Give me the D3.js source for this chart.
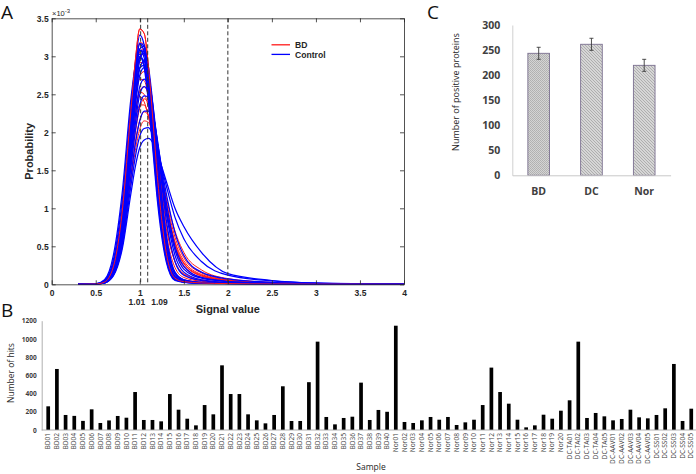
<!DOCTYPE html>
<html>
<head>
<meta charset="utf-8">
<script src="https://cdn.jsdelivr.net/npm/d3@7"></script>
<style>
  html, body { margin: 0; padding: 0; background: #ffffff; }
  svg { display: block; }
</style>
</head>
<body>
<svg id="chart" width="696" height="474"></svg>
<script>
// ---------------- Panel A data (probability ×10^-3 on a shared signal grid) ----------------
const signalGrid = [0.3, 0.5, 0.6, 0.7, 0.8, 0.9, 0.95, 1.0, 1.05, 1.1, 1.15, 1.2, 1.3, 1.4, 1.5, 1.7, 2.0, 2.5, 3.0, 4.0];

const bdCurves = [
  [0, 0.003, 0.03, 0.23, 0.95, 2.3, 2.95, 3.36, 3.3, 2.85, 2.15, 1.42, 0.42, 0.08, 0.035, 0.018, 0.009, 0.004, 0.002, 0],
  [0, 0.003, 0.03, 0.24, 0.93, 2.22, 2.82, 3.18, 3.16, 2.78, 2.15, 1.45, 0.46, 0.09, 0.04, 0.02, 0.01, 0.005, 0.002, 0],
  [0, 0.002, 0.025, 0.2, 0.84, 2.1, 2.7, 3.06, 3.1, 2.8, 2.22, 1.55, 0.55, 0.13, 0.05, 0.025, 0.012, 0.005, 0.002, 0],
  [0, 0.003, 0.03, 0.22, 0.88, 2.05, 2.6, 2.92, 2.9, 2.6, 2.1, 1.55, 0.66, 0.22, 0.09, 0.04, 0.018, 0.007, 0.003, 0],
  [0, 0.002, 0.025, 0.18, 0.75, 1.85, 2.4, 2.74, 2.8, 2.62, 2.22, 1.72, 0.8, 0.3, 0.13, 0.05, 0.022, 0.008, 0.003, 0],
  [0, 0.002, 0.025, 0.17, 0.7, 1.72, 2.22, 2.55, 2.6, 2.48, 2.18, 1.8, 0.98, 0.47, 0.23, 0.09, 0.04, 0.015, 0.005, 0],
  [0, 0.003, 0.03, 0.2, 0.78, 1.8, 2.28, 2.53, 2.5, 2.32, 2.02, 1.65, 0.95, 0.5, 0.27, 0.11, 0.045, 0.015, 0.005, 0],
  [0, 0.002, 0.02, 0.15, 0.62, 1.55, 2.0, 2.32, 2.44, 2.38, 2.15, 1.82, 1.08, 0.55, 0.28, 0.11, 0.05, 0.018, 0.006, 0],
  [0, 0.003, 0.03, 0.18, 0.72, 1.68, 2.12, 2.36, 2.36, 2.2, 1.95, 1.65, 1.0, 0.56, 0.31, 0.13, 0.055, 0.02, 0.006, 0],
  [0, 0.002, 0.02, 0.14, 0.58, 1.45, 1.88, 2.16, 2.27, 2.22, 2.02, 1.74, 1.1, 0.62, 0.35, 0.15, 0.06, 0.02, 0.007, 0],
  [0, 0.002, 0.02, 0.13, 0.54, 1.36, 1.76, 2.04, 2.15, 2.13, 1.96, 1.72, 1.15, 0.7, 0.42, 0.19, 0.075, 0.025, 0.008, 0],
  [0, 0.003, 0.03, 0.22, 0.86, 1.98, 2.48, 2.7, 2.68, 2.45, 2.05, 1.58, 0.74, 0.3, 0.14, 0.06, 0.025, 0.01, 0.003, 0],
  [0, 0.002, 0.025, 0.2, 0.82, 2.05, 2.63, 2.98, 3.03, 2.74, 2.18, 1.53, 0.56, 0.14, 0.06, 0.025, 0.012, 0.005, 0.002, 0],
  [0, 0.004, 0.04, 0.24, 0.88, 1.9, 2.32, 2.47, 2.4, 2.2, 1.9, 1.55, 0.92, 0.5, 0.28, 0.12, 0.05, 0.018, 0.006, 0]
];

const controlCurves = [
  [0, 0.003, 0.03, 0.22, 0.92, 2.25, 2.9, 3.28, 3.15, 2.65, 1.95, 1.25, 0.33, 0.06, 0.03, 0.015, 0.008, 0.004, 0.002, 0],
  [0, 0.003, 0.03, 0.24, 0.95, 2.22, 2.82, 3.16, 3.06, 2.62, 1.98, 1.3, 0.38, 0.07, 0.03, 0.015, 0.008, 0.004, 0.002, 0],
  [0, 0.003, 0.03, 0.23, 0.9, 2.15, 2.73, 3.08, 3.05, 2.65, 2.03, 1.36, 0.42, 0.08, 0.04, 0.02, 0.01, 0.005, 0.002, 0],
  [0, 0.002, 0.02, 0.15, 0.7, 1.9, 2.5, 2.95, 3.07, 2.85, 2.35, 1.7, 0.6, 0.13, 0.05, 0.02, 0.01, 0.005, 0.002, 0],
  [0, 0.002, 0.025, 0.2, 0.82, 2.05, 2.65, 3.0, 3.04, 2.72, 2.15, 1.48, 0.5, 0.1, 0.04, 0.02, 0.01, 0.005, 0.002, 0],
  [0, 0.004, 0.04, 0.27, 0.95, 2.12, 2.66, 2.98, 2.94, 2.58, 2.0, 1.38, 0.46, 0.1, 0.04, 0.02, 0.01, 0.005, 0.002, 0],
  [0, 0.005, 0.05, 0.32, 1.1, 2.35, 2.85, 3.08, 2.98, 2.55, 1.92, 1.26, 0.38, 0.08, 0.03, 0.015, 0.008, 0.004, 0.002, 0],
  [0, 0.002, 0.02, 0.16, 0.72, 1.85, 2.42, 2.84, 2.94, 2.78, 2.32, 1.72, 0.66, 0.16, 0.06, 0.025, 0.012, 0.006, 0.002, 0],
  [0, 0.002, 0.025, 0.19, 0.82, 2.1, 2.72, 3.1, 3.13, 2.8, 2.2, 1.5, 0.48, 0.09, 0.04, 0.02, 0.01, 0.005, 0.002, 0],
  [0, 0.002, 0.02, 0.16, 0.7, 1.8, 2.35, 2.75, 2.85, 2.72, 2.35, 1.85, 0.85, 0.3, 0.12, 0.05, 0.02, 0.01, 0.004, 0],
  [0, 0.002, 0.02, 0.15, 0.66, 1.7, 2.22, 2.6, 2.7, 2.6, 2.28, 1.85, 0.95, 0.38, 0.16, 0.06, 0.025, 0.01, 0.004, 0],
  [0, 0.002, 0.02, 0.14, 0.6, 1.55, 2.02, 2.36, 2.48, 2.46, 2.25, 1.9, 1.08, 0.5, 0.24, 0.09, 0.04, 0.015, 0.005, 0],
  [0, 0.002, 0.02, 0.13, 0.55, 1.42, 1.85, 2.15, 2.28, 2.28, 2.12, 1.85, 1.2, 0.68, 0.38, 0.16, 0.07, 0.025, 0.008, 0],
  [0, 0.002, 0.02, 0.12, 0.5, 1.3, 1.68, 1.95, 2.05, 2.06, 1.95, 1.76, 1.3, 0.88, 0.6, 0.3, 0.12, 0.045, 0.015, 0],
  [0, 0.002, 0.018, 0.11, 0.46, 1.2, 1.55, 1.8, 1.9, 1.92, 1.86, 1.72, 1.36, 1.0, 0.76, 0.42, 0.14, 0.05, 0.018, 0],
  [0, 0.004, 0.04, 0.28, 0.98, 2.18, 2.7, 2.99, 2.88, 2.45, 1.82, 1.17, 0.34, 0.06, 0.03, 0.015, 0.008, 0.004, 0.002, 0],
  [0, 0.003, 0.03, 0.2, 0.8, 1.95, 2.5, 2.85, 2.88, 2.62, 2.1, 1.5, 0.58, 0.15, 0.06, 0.025, 0.012, 0.006, 0.002, 0],
  [0, 0.003, 0.03, 0.22, 0.9, 2.2, 2.8, 3.17, 3.13, 2.72, 2.08, 1.4, 0.43, 0.08, 0.04, 0.02, 0.01, 0.005, 0.002, 0],
  [0, 0.002, 0.02, 0.15, 0.63, 1.62, 2.12, 2.5, 2.6, 2.52, 2.25, 1.88, 1.0, 0.45, 0.2, 0.08, 0.035, 0.012, 0.004, 0],
  [0, 0.006, 0.06, 0.38, 1.2, 2.45, 2.88, 3.03, 2.85, 2.38, 1.75, 1.1, 0.3, 0.05, 0.025, 0.012, 0.006, 0.003, 0.001, 0]
];

const thresholdLines = [1.01, 1.09, 2];
const thresholdLabels = ["1.01", "1.09"];
const signalTicks = [0, 0.5, 1, 1.5, 2, 2.5, 3, 3.5, 4];
const probTicks = [0, 0.5, 1, 1.5, 2, 2.5, 3, 3.5];
const legendLabels = ["BD", "Control"];

// ---------------- Panel B data ----------------
const sampleNames = [
  "BD01","BD02","BD03","BD04","BD05","BD06","BD07","BD08","BD09","BD10",
  "BD11","BD12","BD13","BD14","BD15","BD16","BD17","BD18","BD19","BD20",
  "BD21","BD22","BD23","BD24","BD25","BD26","BD27","BD28","BD29","BD30",
  "BD31","BD32","BD33","BD34","BD35","BD36","BD37","BD38","BD39","BD40",
  "Nor01","Nor02","Nor03","Nor04","Nor05","Nor06","Nor07","Nor08","Nor09","Nor10",
  "Nor11","Nor12","Nor13","Nor14","Nor15","Nor16","Nor17","Nor18","Nor19","Nor20",
  "DC-TA01","DC-TA02","DC-TA03","DC-TA04","DC-TA05",
  "DC-AAV01","DC-AAV02","DC-AAV03","DC-AAV04","DC-AAV05",
  "DC-SS01","DC-SS02","DC-SS03","DC-SS04","DC-SS05"
];
const hitCounts = [
  260, 670, 165, 155, 100, 227, 77, 105, 154, 135,
  417, 110, 110, 95, 395, 223, 124, 51, 274, 172,
  710, 395, 395, 172, 106, 73, 165, 480, 99, 99,
  525, 970, 143, 62, 132, 146, 520, 110, 220, 200,
  1145, 88, 77, 106, 143, 113, 143, 55, 84, 113,
  274, 685, 417, 289, 113, 29, 51, 168, 124, 212,
  326, 970, 132, 187, 150,
  106, 121, 223, 139, 128,
  165, 238, 725, 99, 234
];
const hitTicks = [0, 200, 400, 600, 800, 1000, 1200];

// ---------------- Panel C data ----------------
const groupNames = ["BD", "DC", "Nor"];
const positiveProteins = [243.5, 261.5, 219.5];
const positiveErrors = [12, 12, 12];
const proteinTicks = [0, 50, 100, 150, 200, 250, 300];

// =====================================================================
const svg = d3.select("#chart");
const defs = svg.append("defs");

// ---------------- Panel A ----------------
const fontA = "'Liberation Sans', Arial, sans-serif";
const xA = d3.scaleLinear().domain([0, 4]).range([51.7, 404]);
const yA = d3.scaleLinear().domain([0, 3.5]).range([284.3, 18.3]);
const gA = svg.append("g");

defs.append("clipPath").attr("id", "clipA").append("rect")
  .attr("x", xA(0)).attr("y", yA(3.5)).attr("width", xA(4) - xA(0)).attr("height", yA(0) - yA(3.5));

const lineA = d3.line()
  .x((d, i) => xA(signalGrid[i]))
  .y(d => yA(d))
  .curve(d3.curveMonotoneX);

const curvesG = gA.append("g").attr("clip-path", "url(#clipA)");
curvesG.selectAll("path.bd").data(bdCurves).join("path")
  .attr("class", "bd").attr("d", lineA)
  .attr("fill", "none").attr("stroke", "#ff1a1a").attr("stroke-width", 1.0);
curvesG.selectAll("path.ctl").data(controlCurves).join("path")
  .attr("class", "ctl").attr("d", lineA)
  .attr("fill", "none").attr("stroke", "#0000ff").attr("stroke-width", 1.25);
// tallest BD curve stays visible on top
curvesG.append("path").datum(bdCurves[0]).attr("d", lineA)
  .attr("fill", "none").attr("stroke", "#ff1a1a").attr("stroke-width", 1.0);

// dashed thresholds
gA.selectAll("line.thr").data(thresholdLines).join("line")
  .attr("class", "thr")
  .attr("x1", d => xA(d)).attr("x2", d => xA(d))
  .attr("y1", yA(3.5)).attr("y2", yA(0))
  .attr("stroke", "#333333").attr("stroke-width", 1).attr("stroke-dasharray", "4,2.5");

// axes (MATLAB style box, inward ticks)
const styleAxisA = (g) => {
  g.select(".domain").attr("stroke", "#262626").attr("stroke-width", 0.8);
  g.selectAll(".tick line").attr("stroke", "#262626").attr("stroke-width", 0.8);
  g.selectAll(".tick text").attr("fill", "#262626").attr("font-family", fontA)
    .attr("font-size", "8.5px").attr("font-weight", "bold");
};
gA.append("g").attr("transform", `translate(0,${yA(0)})`)
  .call(d3.axisBottom(xA).tickValues(signalTicks).tickFormat(d3.format("~g")).tickSize(-4).tickPadding(5.5).tickSizeOuter(0))
  .call(styleAxisA);
gA.append("g").attr("transform", `translate(0,${yA(3.5)})`)
  .call(d3.axisTop(xA).tickValues(signalTicks).tickFormat("").tickSize(-4).tickSizeOuter(0))
  .call(styleAxisA);
gA.append("g").attr("transform", `translate(${xA(0)},0)`)
  .call(d3.axisLeft(yA).tickValues(probTicks).tickFormat(d3.format("~g")).tickSize(-4).tickPadding(3).tickSizeOuter(0))
  .call(styleAxisA);
gA.append("g").attr("transform", `translate(${xA(4)},0)`)
  .call(d3.axisRight(yA).tickValues(probTicks).tickFormat("").tickSize(-4).tickSizeOuter(0))
  .call(styleAxisA);

// threshold labels
gA.append("text").attr("x", xA(thresholdLines[0]) + 4.5).attr("y", 305)
  .attr("text-anchor", "end").attr("font-family", fontA).attr("font-size", "8.5px")
  .attr("font-weight", "bold").attr("fill", "#262626").text(thresholdLabels[0]);
gA.append("text").attr("x", xA(thresholdLines[1]) + 3.5).attr("y", 305)
  .attr("text-anchor", "start").attr("font-family", fontA).attr("font-size", "8.5px")
  .attr("font-weight", "bold").attr("fill", "#262626").text(thresholdLabels[1]);

// exponent label
const expT = gA.append("text").attr("x", 52).attr("y", 16)
  .attr("font-family", fontA).attr("font-size", "7.5px").attr("fill", "#262626");
expT.append("tspan").text("\u00d710");
expT.append("tspan").attr("dy", -3).attr("font-size", "6px").text("-3");

// axis titles
gA.append("text").attr("x", (xA(0) + xA(4)) / 2).attr("y", 313)
  .attr("text-anchor", "middle").attr("font-family", fontA).attr("font-size", "11px")
  .attr("font-weight", "bold").attr("fill", "#262626").text("Signal value");
gA.append("text").attr("transform", `translate(33,${(yA(0) + yA(3.5)) / 2}) rotate(-90)`)
  .attr("text-anchor", "middle").attr("font-family", fontA).attr("font-size", "11px")
  .attr("font-weight", "bold").attr("fill", "#262626").text("Probability");

// legend
const legColors = ["#ff1a1a", "#0000ff"];
const legG = gA.append("g");
legendLabels.forEach((lab, i) => {
  const y = 44.8 + i * 9.6;
  legG.append("line").attr("x1", 271.5).attr("x2", 290).attr("y1", y).attr("y2", y)
    .attr("stroke", legColors[i]).attr("stroke-width", 1.3);
  legG.append("text").attr("x", 295).attr("y", y + 3.2)
    .attr("font-family", fontA).attr("font-size", "8.6px").attr("font-weight", "bold")
    .attr("fill", "#262626").text(lab);
});

// panel letters
const letterFont = "'Open Sans', 'Noto Sans', sans-serif";
[["A", 1, 19], ["B", 1, 317], ["C", 427, 19]].forEach(([t, x, y]) => {
  svg.append("text").attr("x", x).attr("y", y).attr("font-family", letterFont)
    .attr("font-size", "19px").attr("fill", "#111").text(t);
});

// ---------------- Panel B ----------------
const fontB = "'Open Sans', 'Noto Sans', sans-serif";
const xB = d3.scaleBand().domain(sampleNames).range([41.36, 698.1]).padding(0.575);
const yB = d3.scaleLinear().domain([0, 1200]).range([430, 320.7]);
const gB = svg.append("g");

gB.selectAll("rect.hit").data(hitCounts).join("rect")
  .attr("class", "hit")
  .attr("x", (d, i) => xB(sampleNames[i]))
  .attr("width", xB.bandwidth())
  .attr("y", d => yB(d))
  .attr("height", d => yB(0) - yB(d))
  .attr("fill", "#000");

const axBY = gB.append("g").attr("transform", "translate(41.7,0)")
  .call(d3.axisLeft(yB).tickValues(hitTicks).tickFormat(d3.format("d")).tickSize(0).tickPadding(5).tickSizeOuter(0));
axBY.select(".domain").attr("stroke", "#a6a6a6").attr("stroke-width", 0.9);
axBY.selectAll(".tick text").attr("font-family", fontB).attr("font-size", "6.5px")
  .attr("font-weight", "bold").attr("fill", "#404040");

const axBX = gB.append("g").attr("transform", `translate(0,${yB(0)})`)
  .call(d3.axisBottom(xB).tickSize(0).tickPadding(3).tickSizeOuter(0));
axBX.select(".domain").attr("stroke", "#a6a6a6").attr("stroke-width", 0.9)
  .attr("d", "M41.7,0H696");
axBX.selectAll(".tick text")
  .attr("font-family", fontB).attr("font-size", "6.6px").attr("fill", "#404040")
  .attr("text-anchor", "end").attr("dy", null)
  .attr("transform", "rotate(-90)")
  .attr("x", -3).attr("y", 0).attr("dy", "0.33em");

gB.append("text").attr("transform", "translate(14,373) rotate(-90)")
  .attr("text-anchor", "middle").attr("font-family", fontB).attr("font-size", "8.5px")
  .attr("fill", "#262626").text("Number of hits");
gB.append("text").attr("x", 371).attr("y", 470)
  .attr("text-anchor", "middle").attr("font-family", fontB).attr("font-size", "8.5px")
  .attr("fill", "#262626").text("Sample");

// ---------------- Panel C ----------------
const fontC = "'Open Sans', 'Noto Sans', sans-serif";
const xC = d3.scaleBand().domain(groupNames).range([512.3, 670.6]).paddingInner(0.59).paddingOuter(0.295);
const yC = d3.scaleLinear().domain([0, 300]).range([175.3, 25]);
const gC = svg.append("g");

// patterns
const pDots = defs.append("pattern").attr("id", "patDots").attr("patternUnits", "userSpaceOnUse")
  .attr("width", 2).attr("height", 2);
pDots.append("rect").attr("width", 2).attr("height", 2).attr("fill", "#d4d4d4");
pDots.append("rect").attr("width", 1).attr("height", 1).attr("fill", "#b0b0b0");
pDots.append("rect").attr("x", 1).attr("y", 1).attr("width", 1).attr("height", 1).attr("fill", "#b4b4b4");

const pDiag = defs.append("pattern").attr("id", "patDiag").attr("patternUnits", "userSpaceOnUse")
  .attr("width", 3).attr("height", 3);
pDiag.append("rect").attr("width", 3).attr("height", 3).attr("fill", "#d6d6d6");
pDiag.append("path").attr("d", "M0,0L3,3M-1,2L1,4M2,-1L4,1")
  .attr("stroke", "#a9a9a9").attr("stroke-width", 0.9);

const barFills = ["url(#patDots)", "url(#patDiag)", "url(#patDiag)"];

const axCY = gC.append("g").attr("transform", "translate(512.3,0)")
  .call(d3.axisLeft(yC).tickValues(proteinTicks).tickSize(0).tickPadding(12).tickSizeOuter(0));
axCY.select(".domain").attr("stroke", "#d0d0d0").attr("stroke-width", 1);
axCY.selectAll(".tick text").attr("font-family", fontC).attr("font-size", "10.5px")
  .attr("font-weight", "bold").attr("fill", "#404040");

gC.selectAll("rect.grp").data(positiveProteins).join("rect")
  .attr("class", "grp")
  .attr("x", (d, i) => xC(groupNames[i]))
  .attr("width", xC.bandwidth())
  .attr("y", d => yC(d))
  .attr("height", d => yC(0) - yC(d))
  .attr("fill", (d, i) => barFills[i])
  .attr("stroke", "#7b7090").attr("stroke-width", 0.9);

const axCX = gC.append("g").attr("transform", `translate(0,${yC(0)})`)
  .call(d3.axisBottom(xC).tickSize(0).tickPadding(12).tickSizeOuter(0));
axCX.select(".domain").attr("stroke", "#c8c8c8").attr("stroke-width", 1);
axCX.selectAll(".tick text").attr("font-family", fontC).attr("font-size", "10.5px")
  .attr("font-weight", "bold").attr("fill", "#404040");

// error bars
positiveProteins.forEach((v, i) => {
  const cx = xC(groupNames[i]) + xC.bandwidth() / 2;
  const e = positiveErrors[i];
  const eg = gC.append("g").attr("stroke", "#3a3a3a").attr("stroke-width", 0.9);
  eg.append("line").attr("x1", cx).attr("x2", cx).attr("y1", yC(v + e)).attr("y2", yC(v - e));
  eg.append("line").attr("x1", cx - 2).attr("x2", cx + 2).attr("y1", yC(v + e)).attr("y2", yC(v + e));
  eg.append("line").attr("x1", cx - 2).attr("x2", cx + 2).attr("y1", yC(v - e)).attr("y2", yC(v - e));
});

gC.append("text").attr("transform", "translate(459,92) rotate(-90)")
  .attr("text-anchor", "middle").attr("font-family", fontC).attr("font-size", "9px")
  .attr("fill", "#262626").text("Number of positive proteins");
</script>
</body>
</html>
